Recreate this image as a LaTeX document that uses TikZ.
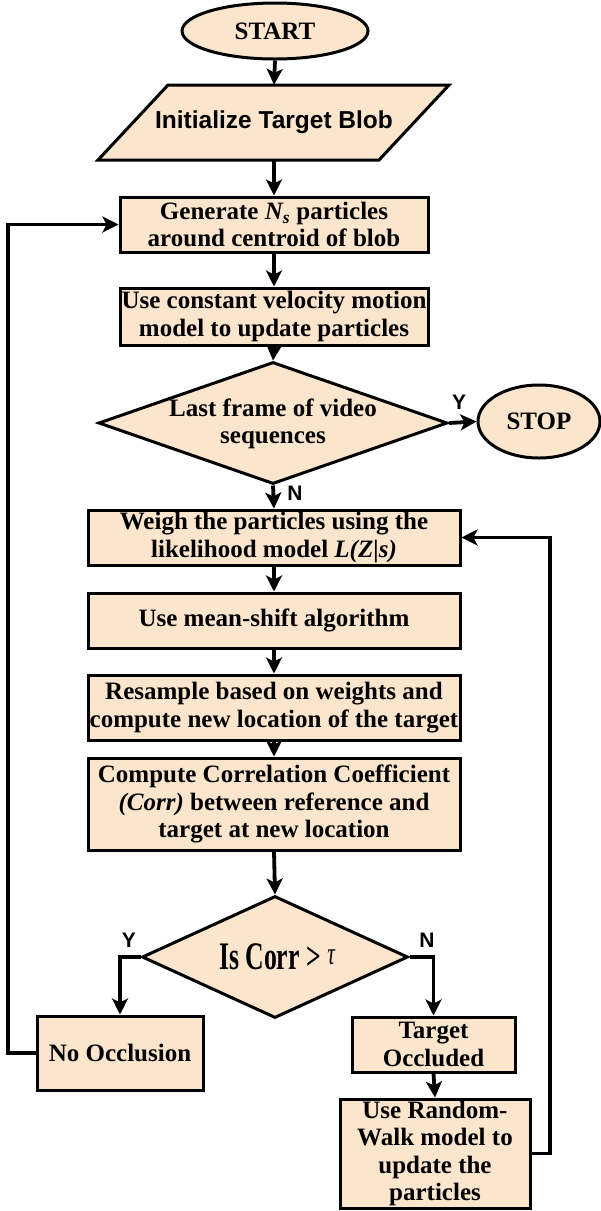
\documentclass[tikz,border=0pt]{standalone}
\usepackage{fontspec}
\usepackage{graphicx}
\setmainfont{Liberation Serif}
\newfontfamily\arialf{Liberation Sans}
\usetikzlibrary{shapes.geometric,arrows.meta}
\definecolor{peach}{RGB}{252,229,205}
\begin{document}
\begin{tikzpicture}[x=1pt,y=-1pt,
  txt/.style={align=center, inner sep=0pt, font=\fontsize{25}{27.5}\selectfont\bfseries},
  box/.style={draw, line width=3pt, fill=peach, txt},
  conn/.style={line width=3.8pt, -{Stealth[length=16pt,width=16pt,inset=4pt]}},
  lab/.style={font=\arialf\fontsize{21}{22}\selectfont\bfseries, inner sep=0pt}]
\useasboundingbox (0,0) rectangle (601,1211);

% nodes
\node[box, ellipse, minimum width=186, minimum height=56] (start) at (275,31) {START};
\draw[line width=3pt, fill=peach] (168,85) -- (449,85) -- (379,160) -- (98,160) -- cycle;
\node[inner sep=0pt, minimum width=200, minimum height=75,
  font=\arialf\fontsize{24.5}{27}\selectfont\bfseries] (init) at (274,122.5) {Initialize Target Blob};
\node[box, minimum width=308, minimum height=55] (gen) at (274,224.5)
  {Generate {\itshape N\textsubscript{s}} particles\\around centroid of blob};
\node[box, minimum width=308, minimum height=57] (cvm) at (274,316.5)
  {Use constant velocity motion\\model to update particles};
\node[box, diamond, minimum width=349, minimum height=122] (d1) at (273,423) {};
\node[txt] (d1t) at (273,424) {Last frame of video\\sequences};
\node[box, ellipse, minimum width=122, minimum height=73] (stop) at (539,421.5) {STOP};
\node[box, minimum width=372, minimum height=55] (weigh) at (274,537.5)
  {Weigh the particles using the\\likelihood model {\itshape L(Z|s)}};
\node[box, minimum width=372, minimum height=55] (mean) at (274,620.5)
  {Use mean-shift algorithm};
\node[box, minimum width=372, minimum height=65] (resamp) at (274,707.5)
  {Resample based on weights and\\compute new location of the target};
\node[box, minimum width=372, minimum height=92] (corr) at (274,804)
  {Compute Correlation Coefficient\\{\itshape (Corr)} between reference and\\target at new location};
\node[box, diamond, minimum width=266, minimum height=122] (d2) at (275,957) {};
\node[txt] (d2t) at (277,957)
  {\scalebox{0.66}[1]{\fontsize{39}{40}\selectfont\bfseries Is Corr > {\mdseries\itshape\fontsize{32}{32}\selectfont\raisebox{5pt}{τ}}}};
\node[box, minimum width=166, minimum height=74] (noocc) at (120,1053) {No Occlusion};
\node[box, minimum width=163, minimum height=55] (tocc) at (433.5,1044.5) {Target\\Occluded};
\node[box, minimum width=190, minimum height=109] (rw) at (435,1153.5)
  {Use Random-\\Walk model to\\update the\\particles};

\coordinate (lft) at (8,0);
\coordinate (rgt) at (550,0);

% connectors
\draw[conn] (start.south) -- (init.north);
\draw[conn] (init.south) -- (gen.north);
\draw[conn] (gen.south) -- (cvm.north);
\draw[conn] (cvm.south) -- (d1.north);
\draw[conn] (d1.east) -- (stop.west);
\draw[conn] (d1.south) -- (weigh.north);
\draw[conn] (weigh.south) -- (mean.north);
\draw[conn] (mean.south) -- (resamp.north);
\draw[conn] (resamp.south) -- (corr.north);
\draw[conn] (corr.south) -- (d2.north);
\draw[conn] (d2.west) -| (noocc.north);
\draw[conn] (d2.east) -| (tocc.north);
\draw[conn] (tocc.south) -- (rw.north);
\draw[conn] (noocc.west) -- (noocc.west -| lft) -- (gen.west -| lft) -- (gen.west);
\draw[conn] (rw.east) -- (rw.east -| rgt) -- (weigh.east -| rgt) -- (weigh.east);

% labels
\node[lab] (y1) at (459,402) {Y};
\node[lab] (n1) at (295,493) {N};
\node[lab] (y2) at (129,940) {Y};
\node[lab] (n2) at (427,940) {N};
\end{tikzpicture}
\end{document}
